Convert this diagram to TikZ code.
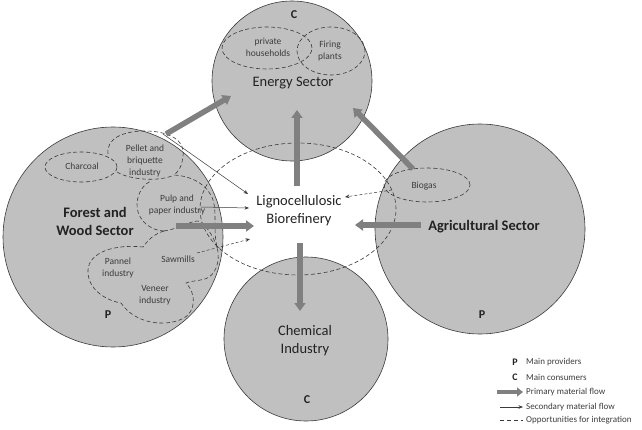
\documentclass[tikz,border=0pt]{standalone}
\usepackage{fontspec}
\setmainfont{Carlito}
\usetikzlibrary{arrows.meta,shapes.geometric}
\definecolor{circfill}{HTML}{C0C0C0}
\definecolor{circline}{HTML}{3A3A3A}
\definecolor{flowgray}{HTML}{808080}
\definecolor{txtdark}{HTML}{222222}
\definecolor{txtsmall}{HTML}{3C3C3C}
\begin{document}
\begin{tikzpicture}[x=1pt,y=-1pt,
  sector/.style={circle, draw=circline, fill=circfill, line width=0.6pt, inner sep=0pt},
  opp/.style={draw=circline, line width=0.6pt, dash pattern=on 4pt off 2.5pt},
  oppnode/.style={ellipse, opp, inner sep=0pt},
  primary/.style={draw=flowgray, line width=5.5pt, -{Triangle[length=8pt,width=11pt]}},
  primleg/.style={draw=flowgray, line width=4pt, -{Triangle[length=6pt,width=9pt]}},
  secondary/.style={draw=circline, line width=0.5pt, -{Stealth[length=4.5pt,width=3.5pt]}},
  secdash/.style={secondary, dash pattern=on 3pt off 2pt},
  bigtext/.style={text=txtdark, font=\fontsize{14.5}{18}\selectfont, align=center, inner sep=0pt},
  bigbold/.style={text=txtdark, font=\fontsize{14.5}{18}\selectfont\bfseries, align=center, inner sep=0pt},
  smalltext/.style={text=txtsmall, font=\fontsize{9.5}{12}\selectfont, align=center, inner sep=0pt},
  letter/.style={text=txtdark, font=\fontsize{12}{14}\selectfont\bfseries, inner sep=0pt},
  legletter/.style={text=txtdark, font=\fontsize{10}{11}\selectfont\bfseries, inner sep=0pt},
  legtext/.style={text=txtsmall, font=\fontsize{9}{10}\selectfont, inner sep=0pt, anchor=west}
]
\useasboundingbox (0,0) rectangle (642,430);

% sector circles
\node[sector, minimum size=160pt] (energy) at (292,81) {};
\node[sector, minimum size=220pt] (forest) at (113,237) {};
\node[sector, minimum size=210pt] (agri) at (480,229) {};
\node[sector, minimum size=164pt] (chem) at (306,339) {};

% integration opportunities
\node[oppnode, minimum width=196pt, minimum height=132pt] (biodash) at (298,209) {};
\node[oppnode, minimum width=90pt, minimum height=42pt] (houseell) at (267,48) {};
\node[oppnode, minimum width=68pt, minimum height=48pt] (firingell) at (331,51) {};
\node[oppnode, minimum width=86pt, minimum height=34pt] (biogasell) at (427,185) {};
\node[oppnode, minimum width=72pt, minimum height=30pt] (charell) at (81,167) {};

% forest industry cloud
\draw[opp] (108,154) .. controls (106,138) and (124,131) .. (145,131)
  .. controls (168,131) and (186,140) .. (183,156)
  .. controls (182,166) and (179,171) .. (174,175)
  .. controls (192,176) and (208,185) .. (213,200)
  .. controls (217,212) and (213,230) .. (217,247)
  .. controls (221,262) and (215,276) .. (205,279)
  .. controls (198,281) and (190,281) .. (186,283)
  .. controls (196,293) and (197,312) .. (182,319)
  .. controls (165,327) and (135,324) .. (121,303)
  .. controls (104,300) and (87,288) .. (88,270)
  .. controls (89,252) and (115,244) .. (143,247)
  .. controls (148,240) and (154,234) .. (164,231);
\draw[opp] (164,231) .. controls (146,230) and (136,216) .. (137,203)
  .. controls (138,192) and (144,184) .. (151,181);
\draw[opp] (164,231) .. controls (178,229) and (190,221) .. (198,221)
  .. controls (206,224) and (213,236) .. (217,247);
\draw[opp] (117,172) .. controls (130,180) and (160,182) .. (174,175);

% labels
\node[letter] (cenergy) at (294,15) {C};
\node[smalltext] (households) at (268,47) {private\\households};
\node[smalltext] (firing) at (330,51) {Firing\\plants};
\node[bigtext] (energylbl) at (293,83) {Energy Sector};
\node[bigtext] (bio) at (299,211) {Lignocellulosic\\Biorefinery};
\node[bigbold] (forestlbl) at (95,221) {Forest and\\Wood Sector};
\node[letter] (pforest) at (108,315) {P};
\node[bigbold] (agrilbl) at (484,227) {Agricultural Sector};
\node[letter] (pagri) at (482,315) {P};
\node[bigtext] (chemlbl) at (305,341) {Chemical\\Industry};
\node[letter] (cchem) at (307,400) {C};
\node[smalltext] (biogas) at (424,186) {Biogas};
\node[smalltext] (charcoal) at (82,166) {Charcoal};
\node[smalltext] (pellet) at (145,161) {Pellet and\\briquette\\industry};
\node[smalltext] (pulp) at (177,205) {Pulp and\\paper industry};
\node[smalltext] (sawmills) at (178,259) {Sawmills};
\node[smalltext] (pannel) at (118,268) {Pannel\\industry};
\node[smalltext] (veneer) at (155,295) {Veneer\\industry};

% primary flows
\coordinate (p1a) at (166,134); \coordinate (p1b) at (231,96);
\coordinate (p2a) at (297,186); \coordinate (p2b) at (297,110);
\coordinate (p3a) at (413,169); \coordinate (p3b) at (353,108);
\coordinate (p4a) at (176,226); \coordinate (p4b) at (254,226);
\coordinate (p5a) at (421,225); \coordinate (p5b) at (355,225);
\coordinate (p6a) at (300,243); \coordinate (p6b) at (300,311);
\draw[primary] (p1a) -- (p1b);
\draw[primary] (p2a) -- (p2b);
\draw[primary] (p3a) -- (p3b);
\draw[primary] (p4a) -- (p4b);
\draw[primary] (p5a) -- (p5b);
\draw[primary] (p6a) -- (p6b);

% secondary flows
\coordinate (s1a) at (163,134); \coordinate (s1b) at (248,194);
\coordinate (s2a) at (201,207); \coordinate (s2b) at (249,208);
\coordinate (s3a) at (197,253); \coordinate (s3b) at (250,239);
\coordinate (s4a) at (392,190); \coordinate (s4b) at (345,197);
\draw[secondary] (s1a) -- (s1b);
\draw[secondary] (s2a) -- (s2b);
\draw[secdash] (s3a) -- (s3b);
\draw[secdash] (s4a) -- (s4b);

% legend
\node[legletter] (legp) at (515,362) {P};
\node[legtext] (legptxt) at (526,362) {Main providers};
\node[legletter] (legc) at (515,377) {C};
\node[legtext] (legctxt) at (526,377) {Main consumers};
\coordinate (lg1a) at (497,392); \coordinate (lg1b) at (523,392);
\draw[primleg] (lg1a) -- (lg1b);
\node[legtext] (legprim) at (526,392) {Primary material flow};
\coordinate (lg2a) at (500,407); \coordinate (lg2b) at (523,407);
\draw[secondary] (lg2a) -- (lg2b);
\node[legtext] (legsec) at (526,407) {Secondary material flow};
\coordinate (lg3a) at (500,420); \coordinate (lg3b) at (523,420);
\draw[opp, dash pattern=on 4pt off 3pt] (lg3a) -- (lg3b);
\node[legtext] (legopp) at (526,420) {Opportunities for integration};
\end{tikzpicture}
\end{document}
